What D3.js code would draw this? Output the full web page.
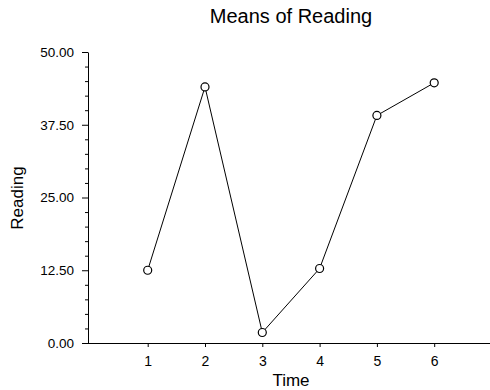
<!DOCTYPE html>
<html>
<head>
<meta charset="utf-8">
<script src="https://cdn.jsdelivr.net/npm/d3@7"></script>
<style>
  html, body { margin: 0; padding: 0; background: #fff; }
  svg { display: block; }
  text { font-family: "Liberation Sans", Arial, sans-serif; fill: #000; }
</style>
</head>
<body>
<svg id="chart" width="490" height="390"></svg>
<script>
const title = "Means of Reading";
const xLabel = "Time";
const yLabel = "Reading";
const times = [1, 2, 3, 4, 5, 6];
const readingMeans = [12.5, 44.0, 1.8, 12.8, 39.1, 44.7];
const yTickValues = [0, 12.5, 25, 37.5, 50];
const yMinorStep = 2.5;

const svg = d3.select("#chart");
const x = d3.scaleLinear().domain([0, 7]).range([90.4, 491.5]);
const y = d3.scaleLinear().domain([0, 50]).range([343, 52]);
const axisX = 88;

// title
svg.append("text")
  .attr("x", 291).attr("y", 23)
  .attr("text-anchor", "middle")
  .style("font-size", "20px")
  .text(title);

// y minor ticks
const minor = d3.range(0, 50 + 0.001, yMinorStep).filter(v => !yTickValues.some(t => Math.abs(t - v) < 1e-6));
svg.append("g")
  .attr("transform", `translate(${axisX},0)`)
  .call(d3.axisLeft(y).tickValues(minor).tickSize(3).tickFormat(""))
  .call(g => g.select(".domain").remove())
  .call(g => g.selectAll("line").attr("stroke", "#000"));

// y axis major
svg.append("g")
  .attr("transform", `translate(${axisX},0)`)
  .call(d3.axisLeft(y).tickValues(yTickValues).tickSize(6).tickSizeOuter(0).tickPadding(8).tickFormat(d3.format(".2f")))
  .call(g => g.select(".domain").attr("stroke", "#000"))
  .call(g => g.selectAll("line").attr("stroke", "#000"))
  .call(g => g.selectAll("text").style("font-size", "13.5px").attr("fill", "#000"));

// x axis
svg.append("g")
  .attr("transform", `translate(0,${y(0)})`)
  .call(d3.axisBottom(x).tickValues(times).tickSize(4).tickSizeOuter(0).tickPadding(9).tickFormat(d3.format("d")))
  .call(g => g.select(".domain").attr("stroke", "#000").attr("d", `M${axisX},0.5H490`))
  .call(g => g.selectAll("line").attr("stroke", "#000"))
  .call(g => g.selectAll("text").style("font-size", "14px").attr("fill", "#000"));

// axis labels
svg.append("text")
  .attr("x", 291).attr("y", 386)
  .attr("text-anchor", "middle")
  .style("font-size", "17px")
  .text(xLabel);

svg.append("text")
  .attr("transform", `translate(23,198) rotate(-90)`)
  .attr("text-anchor", "middle")
  .style("font-size", "17px")
  .text(yLabel);

// line
const data = times.map((t, i) => ({ t, v: readingMeans[i] }));
svg.append("path")
  .datum(data)
  .attr("fill", "none")
  .attr("stroke", "#000")
  .attr("stroke-width", 1)
  .attr("d", d3.line().x(d => x(d.t)).y(d => y(d.v)));

svg.append("g").selectAll("circle")
  .data(data)
  .join("circle")
  .attr("cx", d => x(d.t))
  .attr("cy", d => y(d.v))
  .attr("r", 4)
  .attr("fill", "#fff")
  .attr("stroke", "#000")
  .attr("stroke-width", 1.2);
</script>
</body>
</html>
